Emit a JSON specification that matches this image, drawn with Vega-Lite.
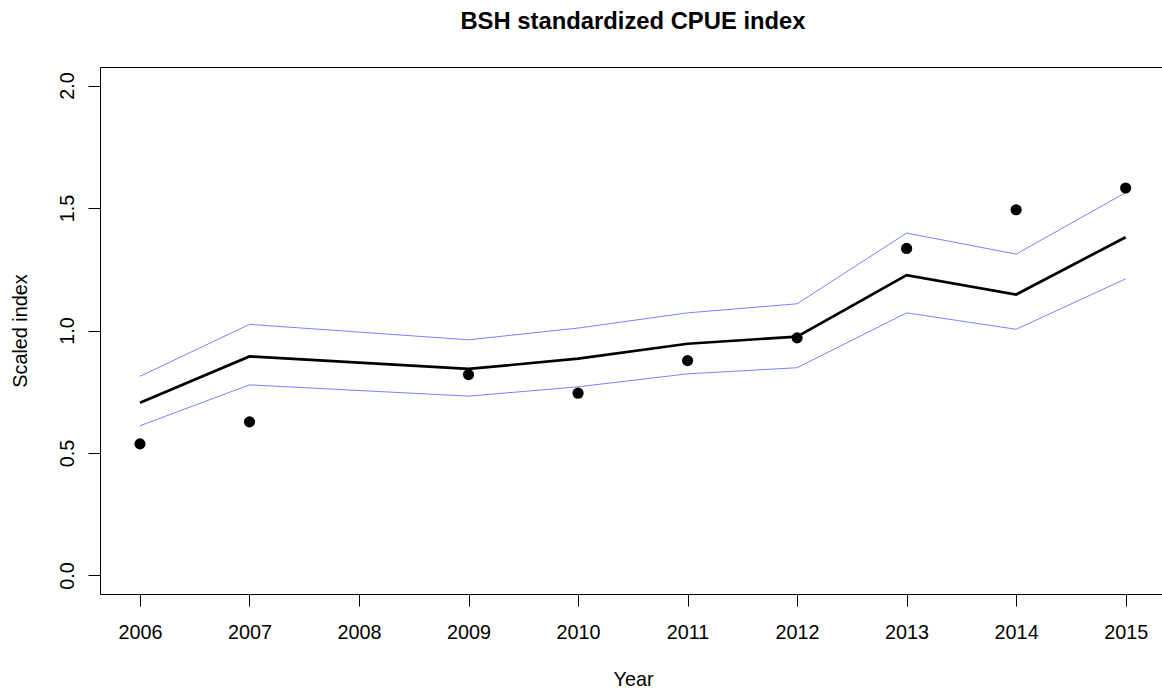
{
  "$schema": "https://vega.github.io/schema/vega-lite/v6.json",
  "autosize": {"type": "none"},
  "padding": {"left": 100, "top": 67, "right": 0, "bottom": 94},
  "width": 1062,
  "height": 527,
  "background": "white",
  "title": {
    "text": "BSH standardized CPUE index",
    "font": "Liberation Sans",
    "fontSize": 23.8,
    "fontWeight": "bold",
    "color": "black",
    "anchor": "middle",
    "frame": "group",
    "baseline": "alphabetic",
    "offset": 14,
    "dx": 2
  },
  "data": {
    "values": [
      {"year": 2006, "obs": 0.537, "est": 0.705, "upper": 0.813, "lower": 0.611},
      {"year": 2007, "obs": 0.627, "est": 0.894, "upper": 1.025, "lower": 0.778},
      {"year": 2009, "obs": 0.820, "est": 0.843, "upper": 0.962, "lower": 0.732},
      {"year": 2010, "obs": 0.744, "est": 0.885, "upper": 1.010, "lower": 0.770},
      {"year": 2011, "obs": 0.877, "est": 0.946, "upper": 1.072, "lower": 0.823},
      {"year": 2012, "obs": 0.970, "est": 0.975, "upper": 1.109, "lower": 0.848},
      {"year": 2013, "obs": 1.335, "est": 1.226, "upper": 1.398, "lower": 1.072},
      {"year": 2014, "obs": 1.493, "est": 1.147, "upper": 1.312, "lower": 1.005},
      {"year": 2015, "obs": 1.582, "est": 1.381, "upper": 1.563, "lower": 1.211}
    ]
  },
  "encoding": {
    "x": {
      "field": "year",
      "type": "quantitative",
      "scale": {"domain": [2005.635, 2015.332], "nice": false, "zero": false},
      "axis": {
        "title": "Year",
        "values": [2006, 2007, 2008, 2009, 2010, 2011, 2012, 2013, 2014, 2015],
        "format": "d",
        "labelFlush": false,
        "labelOverlap": false,
        "labelPadding": 16,
        "labelBaseline": "top",
        "titleX": 533,
        "titleY": 91,
        "titleAlign": "center",
        "titleBaseline": "alphabetic"
      }
    }
  },
  "layer": [
    {
      "mark": {"type": "line", "color": "#7f7fff", "strokeWidth": 1},
      "encoding": {
        "y": {
          "field": "upper",
          "type": "quantitative",
          "scale": {"domain": [-0.076, 2.076], "nice": false, "zero": false},
          "axis": {
            "title": "Scaled index",
            "values": [0, 0.5, 1, 1.5, 2],
            "format": ".1f",
            "labelAngle": -90,
            "labelAlign": "center",
            "labelBaseline": "alphabetic",
            "labelPadding": 15,
            "labelFlush": false,
            "labelOverlap": false,
            "titleAngle": -90,
            "titleX": -74,
            "titleY": 263.5,
            "titleAlign": "center",
            "titleBaseline": "alphabetic"
          }
        }
      }
    },
    {
      "mark": {"type": "line", "color": "#7f7fff", "strokeWidth": 1},
      "encoding": {"y": {"field": "lower", "type": "quantitative"}}
    },
    {
      "mark": {"type": "line", "color": "black", "strokeWidth": 2.7},
      "encoding": {"y": {"field": "est", "type": "quantitative"}}
    },
    {
      "mark": {"type": "point", "filled": true, "color": "black", "opacity": 1, "size": 125, "strokeWidth": 0},
      "encoding": {"y": {"field": "obs", "type": "quantitative"}}
    }
  ],
  "config": {
    "view": {"stroke": "black", "strokeWidth": 1},
    "axis": {
      "domain": false,
      "grid": false,
      "ticks": true,
      "tickColor": "black",
      "tickSize": 12,
      "tickWidth": 1,
      "labelFont": "Liberation Sans",
      "labelFontSize": 19.8,
      "labelColor": "black",
      "titleFont": "Liberation Sans",
      "titleFontSize": 19.8,
      "titleFontWeight": "normal",
      "titleColor": "black"
    }
  }
}
